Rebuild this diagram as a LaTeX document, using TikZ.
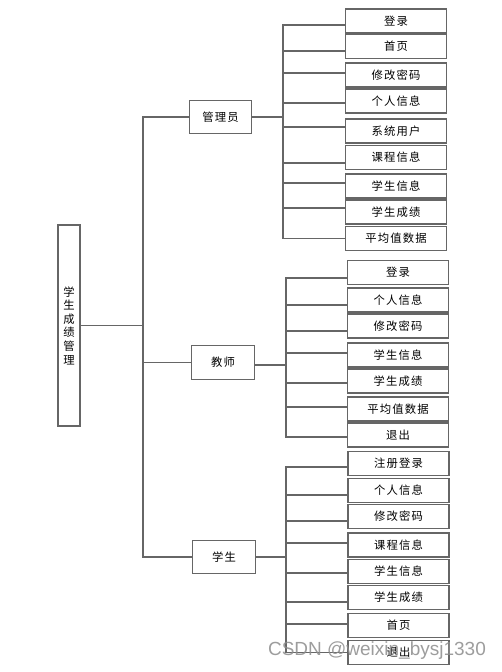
\documentclass[tikz,border=0pt]{standalone}
\usepackage{fontspec}
\newfontfamily\cjk[LetterSpace=10]{Noto Sans CJK SC}
\newfontfamily\wmfont{Liberation Sans}
\usepackage{tikz}

\begin{document}
\begin{tikzpicture}[x=0.75pt,y=-0.75pt,line width=0.8pt,
  ln/.style={draw=black!60},
  box/.style={draw=black!60,fill=white,inner sep=0pt,font=\cjk\fontsize{8.5pt}{10.2pt}\selectfont},
  leaf/.style={box,minimum width=75.75pt,minimum height=18pt},
  role/.style={box,minimum width=47pt,minimum height=25pt}]
\useasboundingbox (0,0) rectangle (501,672);
% root and roles
\node[box,minimum width=16.5pt,minimum height=150.75pt,align=center] (root) at (69,325.5)
   {学\\生\\成\\绩\\管\\理};
\node[role] (adm) at (220.5,117) {管理员};
\node[role] (tea) at (223,362.5) {教师};
\node[role] (stu) at (224,557) {学生};
\coordinate (tm) at (143,325.5);
\coordinate (ta) at (283,117);
\coordinate (tt) at (286,365);
\coordinate (ts) at (286,557);
\draw[ln] (root.east) -- (tm);
\foreach \r in {adm,tea,stu} {
   \draw[ln] (\r.west) -| (tm);
}
\draw[ln] (adm.east) -- (ta);
\draw[ln] (tea.east |- tt) -- (tt);
\draw[ln] (stu.east) -- (ts);
% admin items
\foreach \i/\y/\d/\t in %
{1/21/4/登录,2/46.5/4.5/首页,3/75/-2/修改密码,4/101/2/个人信息,5/131/-4/系统用户,%
 6/157.5/5.5/课程信息,7/186/-3/学生信息,8/212/-4/学生成绩,9/238.5/0/平均值数据} {
   \node[leaf] (a\i) at (396,\y) {\t};
   \draw[ln] ([shift={(0,\d)}]a\i.west) -| (ta);
}
% teacher items
\foreach \i/\y/\d/\t in %
{1/272.5/5.5/登录,2/300/5/个人信息,3/326/5/修改密码,4/355/-2/学生信息,%
 5/381/2/学生成绩,6/409/-2/平均值数据,7/435/2/退出} {
   \node[leaf] (t\i) at (398,\y) {\t};
   \draw[ln] ([shift={(0,\d)}]t\i.west) -| (tt);
}
% student items
\foreach \i/\y/\d/\t in %
{1/463.5/3.5/注册登录,2/490.5/4.5/个人信息,3/516.5/4.5/修改密码,4/545/-2/课程信息,%
 5/571.5/1.5/学生信息,6/597.5/4.5/学生成绩,7/625.5/-1.5/首页,8/652.5/0/退出} {
   \node[leaf] (s\i) at (398.5,\y) {\t};
   \draw[ln] ([shift={(0,\d)}]s\i.west) -| (ts);
}
% watermark
\node[text=black!45,opacity=0.85,font=\wmfont\fontsize{14.25pt}{16pt}\selectfont] (wm) at (377,651)
   {CSDN @weixin\_bysj1330};
\end{tikzpicture}
\end{document}
